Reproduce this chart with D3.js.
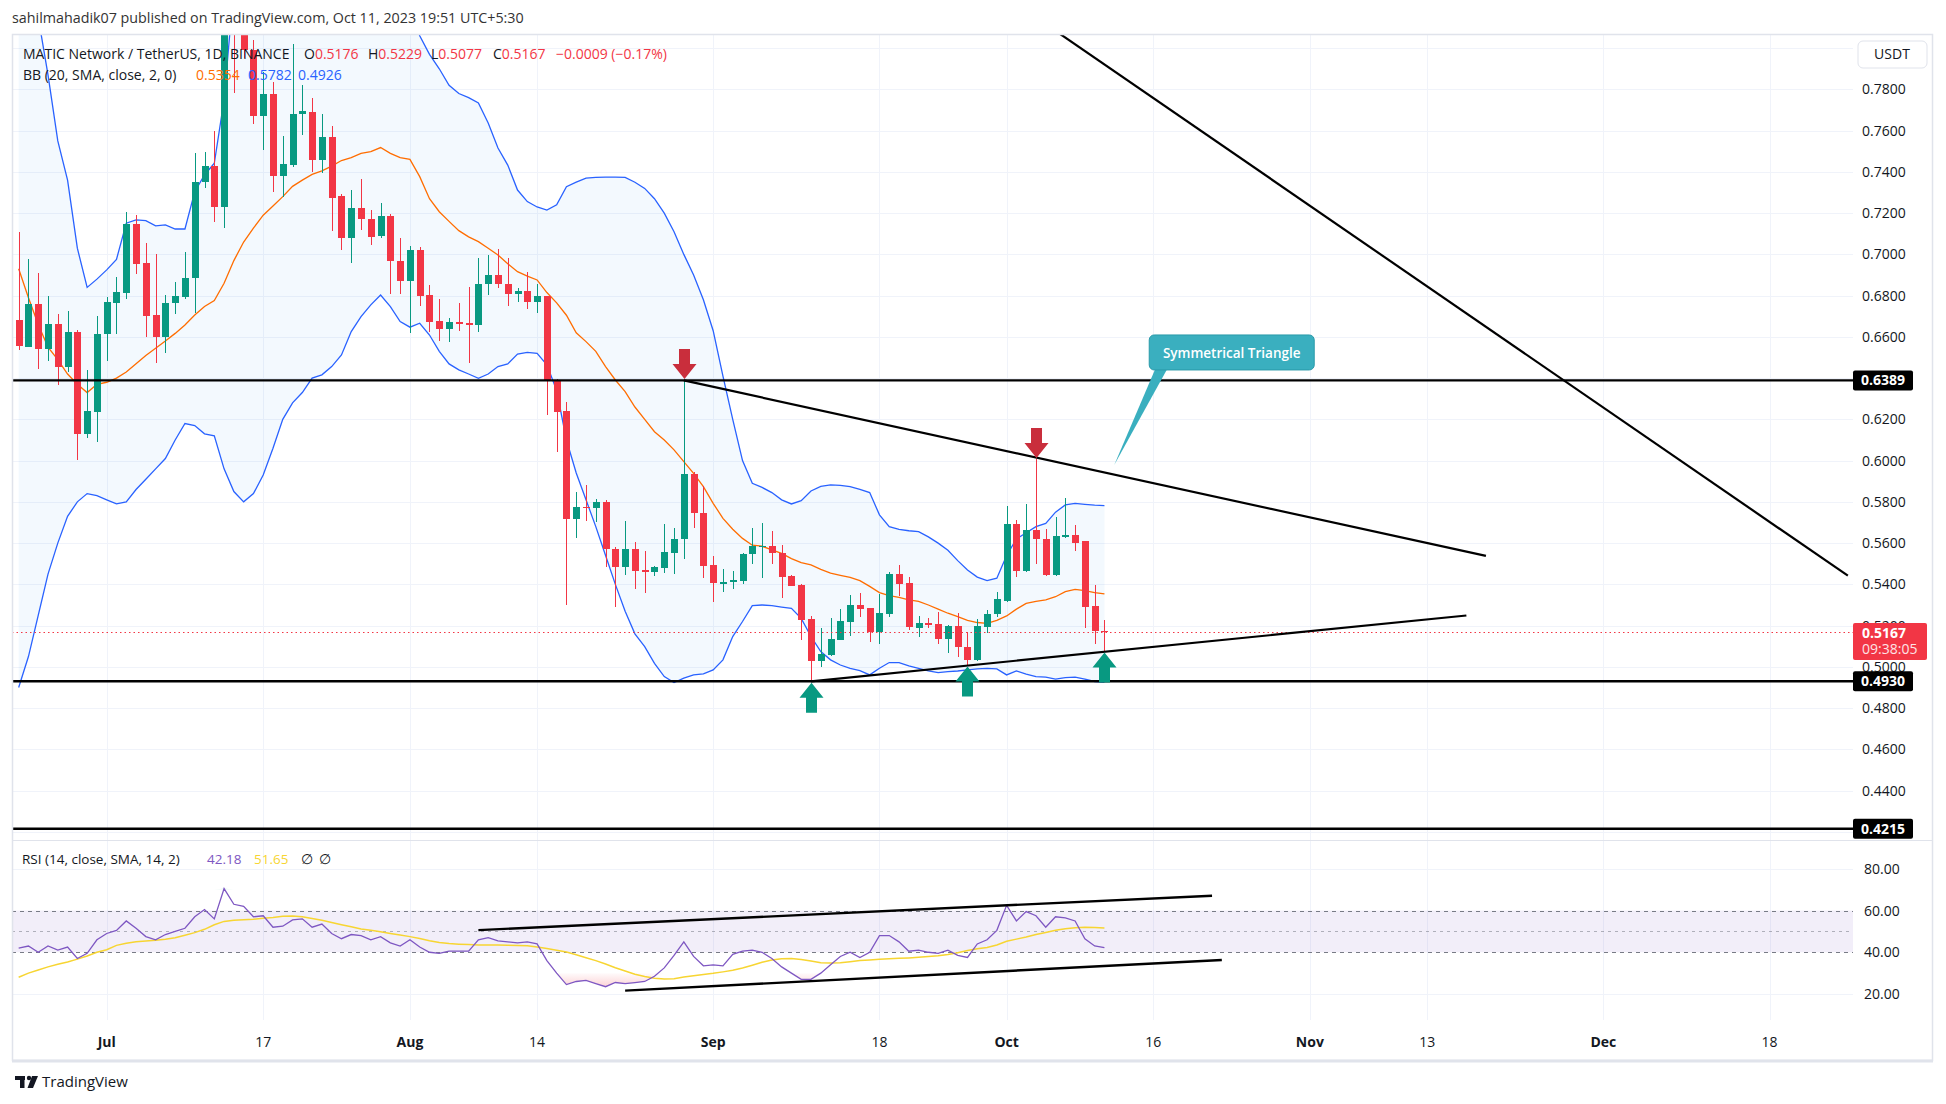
<!DOCTYPE html>
<meta charset="utf-8">
<script src="https://d3js.org/d3.v7.min.js"></script>
<style>
  body { margin: 0; background: #ffffff; }
  text { font-family: "Open Sans", "Noto Sans", sans-serif; fill: #131722; }
</style>
<svg id="chart" width="1946" height="1104"></svg>
<script>
// one daily bar per entry, starting 2023-06-22 (last bar 2023-10-11)
const firstDay = "2023-06-22";

const opens = [
  .6682, .6553, .6760, .6540, .6661, .6453, .6626, .6128, .6238, .6614,
  .6766, .6815, .7148, .6957, .6707, .6601, .6763, .6795, .6884, .7350,
  .7429, .7232, .8300, .8120, .7991, .7673, .7776, .7382, .7434, .7679,
  .7689, .7458, .7568, .7283, .7078, .7223, .7170, .7091, .7186, .6970,
  .6873, .7021, .6803, .6677, .6640, .6671, .6667, .6659, .6855, .6899,
  .6855, .6808, .6823, .6771, .6798, .6391, .6241, .5716, .5777, .5772,
  .5800, .5570, .5486, .5570, .5469, .5462, .5481, .5554, .5618, .5935,
  .5748, .5494, .5405, .5410, .5418, .5546, .5586, .5586, .5551, .5441,
  .5397, .5232, .5030, .5058, .5131, .5219, .5300, .5284, .5168, .5257,
  .5450, .5405, .5190, .5211, .5208, .5134, .5198, .5095, .5034, .5195,
  .5255, .5321, .5693, .5467, .5664, .5620, .5446, .5632, .5638, .5610,
  .5295, .5176
];
const highs = [
  .7107, .6976, .6908, .6798, .6710, .6726, .6634, .6440, .6702, .6795,
  .6889, .7204, .7191, .7054, .7002, .6803, .6865, .7010, .7493, .7495,
  .7598, .8450, .8900, .8200, .8040, .7886, .7838, .7574, .8019, .7821,
  .7757, .7681, .7623, .7291, .7311, .7366, .7215, .7248, .7194, .7078,
  .7042, .7034, .6852, .6784, .6690, .6763, .6840, .6981, .6997, .7025,
  .6981, .6836, .6915, .6855, .6800, .6395, .6286, .5848, .5882, .5814,
  .5810, .5583, .5708, .5607, .5564, .5489, .5693, .5672, .6389, .5946,
  .5877, .5538, .5473, .5465, .5551, .5672, .5699, .5661, .5591, .5445,
  .5400, .5248, .5187, .5236, .5279, .5349, .5357, .5284, .5354, .5459,
  .5494, .5437, .5247, .5236, .5265, .5203, .5260, .5171, .5231, .5276,
  .5361, .5780, .5712, .5790, .6006, .5667, .5725, .5817, .5688, .5610,
  .5397, .5229
];
const lows = [
  .6537, .6550, .6443, .6485, .6367, .6428, .6004, .6112, .6089, .6485,
  .6613, .6784, .6905, .6601, .6475, .6524, .6710, .6782, .6715, .7324,
  .7156, .7127, .7783, .7950, .7631, .7506, .7304, .7280, .7426, .7579,
  .7401, .7393, .7114, .7021, .6960, .7118, .7046, .7078, .6807, .6807,
  .6617, .6752, .6626, .6582, .6577, .6630, .6475, .6625, .6803, .6839,
  .6751, .6771, .6735, .6718, .6221, .6044, .5300, .5627, .5709, .5704,
  .5486, .5292, .5443, .5376, .5357, .5442, .5454, .5450, .5521, .5672,
  .5429, .5316, .5362, .5376, .5402, .5499, .5430, .5499, .5332, .5390,
  .5130, .4930, .5001, .5055, .5128, .5152, .5244, .5122, .5111, .5244,
  .5345, .5179, .5147, .5190, .5110, .5066, .5050, .5009, .5030, .5166,
  .5244, .5315, .5434, .5460, .5499, .5442, .5442, .5627, .5562, .5190,
  .5111, .5077
];
const closes = [
  .6558, .6760, .6540, .6661, .6453, .6626, .6128, .6241, .6614, .6771,
  .6820, .7148, .6954, .6703, .6601, .6763, .6798, .6884, .7350, .7429,
  .7232, .8300, .8120, .7991, .7672, .7776, .7382, .7437, .7681, .7695,
  .7458, .7568, .7275, .7078, .7223, .7170, .7086, .7186, .6970, .6873,
  .7021, .6800, .6674, .6640, .6671, .6665, .6661, .6855, .6899, .6855,
  .6808, .6823, .6771, .6798, .6388, .6235, .5716, .5777, .5772, .5800,
  .5570, .5486, .5570, .5467, .5465, .5486, .5556, .5620, .5935, .5748,
  .5491, .5405, .5410, .5422, .5547, .5586, .5587, .5551, .5438, .5394,
  .5227, .5030, .5063, .5135, .5223, .5300, .5281, .5168, .5260, .5450,
  .5402, .5195, .5211, .5209, .5134, .5198, .5095, .5034, .5198, .5257,
  .5329, .5693, .5467, .5664, .5618, .5446, .5635, .5638, .5602, .5292,
  .5176, .5167
];

// Bollinger Bands (20, 2)
const bbUpper = [
  .870, .845, .815, .787, .755, .736, .703, .684, .688, .6925,
  .6976, .7151, .7167, .7164, .7138, .7143, .7123, .7123, .7304, .7385,
  .7442, .775, .830, .860, .875, .880, .882, .880, .882, .883,
  .882, .880, .878, .875, .870, .865, .860, .855, .845, .835,
  .822, .806, .797, .790, .782, .778, .776, .7734, .7637, .7516,
  .7433, .7312, .7256, .7230, .7215, .7240, .7328, .7350, .7370, .7373,
  .7375, .7375, .7373, .7350, .7320, .7270, .7200, .7110, .7000, .6900,
  .6780, .6630, .6410, .6200, .6000, .5890, .5870, .5845, .5810, .5790,
  .5806, .5853, .5875, .5882, .5880, .5874, .5860, .5845, .5737, .5680,
  .5667, .5660, .5656, .5630, .5600, .5565, .5515, .5470, .5435, .5418,
  .5430, .5540, .5620, .5650, .5680, .5696, .5750, .5785, .5793, .5788,
  .5784, .5782
];
const bbBasis = [
  .693, .679, .666, .655, .649, .642, .637, .633, .637, .638,
  .640, .643, .647, .651, .6545, .658, .6617, .6658, .6706, .6747,
  .6776, .6860, .6970, .7060, .7127, .7190, .7235, .7280, .7330, .7360,
  .7388, .7405, .7428, .7455, .7469, .7490, .7498, .7518, .7490, .7469,
  .7461, .7377, .7270, .7207, .7160, .7115, .7085, .7062, .7030, .6997,
  .6955, .6916, .6895, .6876, .6815, .6765, .6705, .6620, .6577, .6530,
  .6456, .6391, .6335, .6260, .6200, .6140, .6100, .6052, .5995, .5938,
  .5874, .5793, .5720, .5667, .5623, .5590, .5585, .5567, .5550, .5525,
  .5505, .5494, .5473, .5455, .5444, .5434, .5418, .5390, .5360, .5345,
  .5337, .5325, .5318, .5300, .5280, .5260, .5244, .5225, .5215, .5211,
  .5225, .5247, .5280, .5308, .5318, .5325, .5340, .5365, .5376, .5370,
  .5360, .5354
];
const bbLower = [
  .490, .505, .525, .545, .560, .573, .580, .584, .583, .581,
  .579, .580, .586, .591, .596, .601, .610, .618, .617, .613,
  .612, .596, .585, .580, .584, .593, .606, .620, .628, .633,
  .640, .6416, .6456, .6512, .6626, .6698, .6755, .6803, .6747, .6674,
  .6647, .6666, .6609, .6530, .6469, .6440, .6420, .6399, .6420, .6456,
  .6469, .6517, .6525, .6520, .6465, .6340, .6100, .5940, .5810, .5680,
  .5540, .5400, .5270, .5160, .5098, .5017, .4953, .4924, .4945, .4961,
  .4966, .4985, .5034, .5147, .5220, .5297, .5300, .5297, .5290, .5284,
  .5235, .5147, .5074, .5034, .5009, .4993, .4982, .4961, .4993, .5021,
  .5021, .5005, .4993, .4980, .4972, .4977, .4980, .4985, .4990, .4993,
  .4990, .4961, .4980, .4965, .4953, .4950, .4941, .4948, .4950, .4940,
  .4929, .4926
];

// RSI (14) and its 14-day SMA
const rsiValues = [
  42, 43, 40, 43, 41, 42.5, 37, 39.5, 46, 49,
  50.5, 55, 51.5, 47.5, 46, 48.5, 50, 51.5, 57, 60.5,
  56, 70.5, 63, 62, 57, 57.5, 52, 52.5, 55.5, 56,
  52, 53.5, 49, 46.5, 48.5, 48, 46, 47.5, 44.5, 43,
  46, 42.5, 40, 39.5, 40.5, 40.5, 40.5, 46, 47, 45.5,
  45, 44.5, 45, 44, 36, 30, 24.5, 26, 26.5, 25,
  23.5, 25.5, 25, 25.5, 26, 28.5, 32.5, 38.5, 45, 38,
  33.5, 34, 33.5, 39, 40.5, 41, 40, 37, 33, 30,
  27, 27, 30, 34, 38, 40, 37.5, 40, 48, 48,
  45, 40.5, 41, 40, 39.5, 41, 38.5, 37.5, 44, 46,
  50.5, 62.5, 55, 59.5, 57.5, 52, 57, 56.5, 55, 46.5,
  43, 42.18
];
const rsiMa = [
  28, 30, 31.5, 33, 34.3, 35.3, 36.7, 38.2, 40, 41.2,
  43.3, 44.3, 45, 45.4, 45.8, 46.2, 47, 48.2, 49.4, 51,
  53.2, 54.8, 55.4, 55.6, 55.8, 56.3, 56.7, 57.3, 57.4, 57,
  56.2, 55.3, 54.3, 53.2, 52.2, 51.2, 50.5, 49.8, 49, 48.3,
  47.5, 46.6, 45.5, 44.7, 44.2, 43.9, 43.7, 43.5, 43.5, 43.5,
  43.4, 43.3, 43.1, 42.5, 41.8, 41, 40.1, 38.8, 37.4, 36,
  34.4, 32.6, 31, 29.5, 28.4, 27.6, 27.2, 27.3, 28.1, 28.8,
  29.4, 29.9, 30.6, 31.4, 32.5, 33.8, 35.2, 36.3, 36.9, 37,
  36.5, 35.8, 35, 34.8, 35, 35.5, 36, 36.3, 36.6, 36.9,
  37.1, 37.3, 37.6, 38, 38.3, 38.9, 39.8, 40.8, 41.7, 42.3,
  43.5, 45.3, 46.3, 47.3, 48.5, 49.5, 50.6, 51.3, 51.8, 52,
  51.9, 51.65
];

const priceTicks = [0.78, 0.76, 0.74, 0.72, 0.70, 0.68, 0.66, 0.64, 0.62, 0.60,
  0.58, 0.56, 0.54, 0.52, 0.50, 0.48, 0.46, 0.44, 0.42];
const rsiTicks = [80, 60, 40, 20];
const dateTicks = ["2023-07-01", "2023-07-17", "2023-08-01", "2023-08-14", "2023-09-01", "2023-09-18",
  "2023-10-01", "2023-10-16", "2023-11-01", "2023-11-13", "2023-12-01", "2023-12-18"];
const dateLabels = ["Jul", "17", "Aug", "14", "Sep", "18", "Oct", "16", "Nov", "13", "Dec", "18"];

// drawings
const levels = [0.6389, 0.4930, 0.4215];
const triangleTop = [["2023-08-29", 0.6389], ["2023-11-19", 0.5538]];
const triangleBottom = [["2023-09-11", 0.4930], ["2023-11-17", 0.5249]];
const bigTrend = [["2023-10-01", 0.8247], ["2023-12-26", 0.5442]];
const rsiTop = [["2023-08-08", 50.6], ["2023-10-22", 67.1]];
const rsiBottom = [["2023-08-23", 21.6], ["2023-10-23", 36.3]];
const sellArrows = [["2023-08-29", 0.6389], ["2023-10-04", 0.6006]];
const buyArrows = [["2023-09-11", 0.4930], ["2023-09-27", 0.5009], ["2023-10-11", 0.5077]];
const calloutTip = ["2023-10-12", 0.5979];
const countdown = "09:38:05";

// ---- layout ----
const svg = d3.select("#chart");
const left = 12, paneRight = 1853, frameRight = 1932;
const paneTop = 35, mainBottom = 840, rsiPaneBottom = 1020, frameBottom = 1061;
const upColor = "#089981", downColor = "#f23645";

const parseDay = d3.utcParse("%Y-%m-%d");
const day0 = parseDay(firstDay);
const bars = opens.map((o, i) => ({
  date: d3.utcDay.offset(day0, i), open: o, high: highs[i], low: lows[i], close: closes[i],
  upper: bbUpper[i], basis: bbBasis[i], lower: bbLower[i], rsi: rsiValues[i], rsiMa: rsiMa[i]
}));

const x = d3.scaleUtc().domain([parseDay("2023-07-01"), parseDay("2023-12-18")]).range([106.7, 1769.6]);
const y = d3.scaleLinear().domain([0.78, 0.44]).range([89.4, 790.6]);
const yR = d3.scaleLinear().domain([80, 20]).range([868.8, 994]);
const fmt4 = d3.format(".4f");
const snap = v => Math.round(v) + 0.5;

svg.append("rect").attr("width", 1946).attr("height", 1104).attr("fill", "#fff");

const defs = svg.append("defs");
defs.append("clipPath").attr("id", "clipMain").append("rect")
  .attr("x", left).attr("y", paneTop).attr("width", paneRight - left).attr("height", mainBottom - paneTop);
defs.append("clipPath").attr("id", "clipRsi").append("rect")
  .attr("x", left).attr("y", mainBottom).attr("width", paneRight - left).attr("height", rsiPaneBottom - mainBottom);
const gradLow = defs.append("linearGradient").attr("id", "oversold").attr("x1", 0).attr("x2", 0).attr("y1", 0).attr("y2", 1);
gradLow.append("stop").attr("offset", "0%").attr("stop-color", "#f23645").attr("stop-opacity", 0.02);
gradLow.append("stop").attr("offset", "100%").attr("stop-color", "#f23645").attr("stop-opacity", 0.22);
const gradHigh = defs.append("linearGradient").attr("id", "overbought").attr("x1", 0).attr("x2", 0).attr("y1", 1).attr("y2", 0);
gradHigh.append("stop").attr("offset", "0%").attr("stop-color", "#089981").attr("stop-opacity", 0.02);
gradHigh.append("stop").attr("offset", "100%").attr("stop-color", "#089981").attr("stop-opacity", 0.22);

// ---- grid ----
const grid = svg.append("g").attr("stroke", "#f0f3fa").attr("stroke-width", 1);
grid.selectAll(".hp").data([0.80, ...priceTicks]).join("line")
  .attr("x1", left).attr("x2", paneRight)
  .attr("y1", d => snap(y(d))).attr("y2", d => snap(y(d)));
grid.selectAll(".hr").data(rsiTicks.filter(v => v === 80 || v === 20)).join("line")
  .attr("x1", left).attr("x2", paneRight)
  .attr("y1", d => snap(yR(d))).attr("y2", d => snap(yR(d)));
grid.selectAll(".v").data(dateTicks).join("line")
  .attr("x1", d => snap(x(parseDay(d)))).attr("x2", d => snap(x(parseDay(d))))
  .attr("y1", paneTop).attr("y2", rsiPaneBottom);

// ---- main pane ----
const main = svg.append("g").attr("clip-path", "url(#clipMain)");
const xd = d => x(d.date);

main.append("path").datum(bars)
  .attr("fill", "rgba(33,150,243,0.055)")
  .attr("d", d3.area().x(xd).y0(d => y(d.lower)).y1(d => y(d.upper)));
[["upper", "#2962ff"], ["lower", "#2962ff"], ["basis", "#ff6d00"]].forEach(([k, c]) => {
  main.append("path").datum(bars)
    .attr("fill", "none").attr("stroke", c).attr("stroke-width", 1.3)
    .attr("d", d3.line().x(xd).y(d => y(d[k])));
});

const candles = main.append("g").attr("shape-rendering", "crispEdges")
  .selectAll("g").data(bars).join("g");
candles.append("line")
  .attr("x1", d => snap(xd(d))).attr("x2", d => snap(xd(d)))
  .attr("y1", d => y(d.high)).attr("y2", d => y(d.low))
  .attr("stroke", d => d.close >= d.open ? upColor : downColor);
candles.append("rect")
  .attr("x", d => Math.round(xd(d)) - 3).attr("width", 7)
  .attr("y", d => y(Math.max(d.open, d.close)))
  .attr("height", d => Math.max(1.5, Math.abs(y(d.open) - y(d.close))))
  .attr("fill", d => d.close >= d.open ? upColor : downColor);

// horizontal levels and trendlines
main.selectAll(".lvl").data(levels).join("line")
  .attr("x1", left).attr("x2", paneRight)
  .attr("y1", d => y(d)).attr("y2", d => y(d))
  .attr("stroke", "#000").attr("stroke-width", 2.4);
main.append("line")
  .attr("x1", left).attr("x2", paneRight)
  .attr("y1", snap(y(closes[closes.length - 1]))).attr("y2", snap(y(closes[closes.length - 1])))
  .attr("stroke", downColor).attr("stroke-width", 1).attr("stroke-dasharray", "1.5,3");
const trendLine = d3.line().x(d => x(parseDay(d[0]))).y(d => y(d[1]));
[triangleTop, triangleBottom, bigTrend].forEach(t => {
  main.append("path").datum(t).attr("d", trendLine)
    .attr("fill", "none").attr("stroke", "#000").attr("stroke-width", 2.2);
});

// arrows
function arrow(date, price, dir, color) {
  const cx = Math.round(x(parseDay(date))) + 0.5;
  const s = dir === "up" ? 1 : -1;
  const tip = y(price) + s * 1.5;
  main.append("path").attr("fill", color).attr("d",
    `M${cx},${tip} L${cx + 12},${tip + s * 15} L${cx + 5.5},${tip + s * 15} L${cx + 5.5},${tip + s * 30}` +
    ` L${cx - 5.5},${tip + s * 30} L${cx - 5.5},${tip + s * 15} L${cx - 12},${tip + s * 15} Z`);
}
sellArrows.forEach(a => arrow(a[0], a[1], "down", "#c92e3c"));
buyArrows.forEach(a => arrow(a[0], a[1], "up", upColor));

// callout
const tipX = x(parseDay(calloutTip[0])), tipY = y(calloutTip[1]);
const boxX = tipX + 35, boxY = tipY - 130, boxW = 165, boxH = 35;
main.append("path").attr("fill", "#3aafbf")
  .attr("d", `M${boxX + 6},${boxY + boxH - 1} L${boxX + 18},${boxY + boxH - 1} L${tipX},${tipY} Z`);
main.append("rect").attr("x", boxX).attr("y", boxY).attr("width", boxW).attr("height", boxH)
  .attr("rx", 5).attr("fill", "#3aafbf").attr("stroke", "#2a9aaa").attr("stroke-width", 1);
main.append("text").attr("x", boxX + boxW / 2).attr("y", boxY + 23)
  .attr("text-anchor", "middle").style("fill", "#fff").style("font-size", "13.5px").style("font-weight", 600)
  .text("Symmetrical Triangle");

// ---- legend ----
const last = bars.length - 1;
const chg = closes[last] - opens[last];
const legend = svg.append("g").style("font-size", "14px");
legend.append("text").attr("x", 23).attr("y", 59).text("MATIC Network / TetherUS, 1D, BINANCE");
[["O", opens[last], 304], ["H", highs[last], 368], ["L", lows[last], 431], ["C", closes[last], 493]].forEach(([k, v, px]) => {
  const t = legend.append("text").attr("x", px).attr("y", 59);
  t.append("tspan").text(k);
  t.append("tspan").style("fill", downColor).text(fmt4(v));
});
legend.append("text").attr("x", 556).attr("y", 59).style("fill", downColor)
  .text(`${fmt4(chg)} (${d3.format(".2f")(chg / opens[last] * 100)}%)`);
legend.append("text").attr("x", 23).attr("y", 80).text("BB (20, SMA, close, 2, 0)");
[[bbBasis[last], "#ff6d00", 196], [bbUpper[last], "#2962ff", 248], [bbLower[last], "#2962ff", 298]].forEach(([v, c, px]) => {
  legend.append("text").attr("x", px).attr("y", 80).style("fill", c).text(fmt4(v));
});

// ---- price axis ----
const axis = svg.append("g").style("font-size", "14px");
axis.selectAll(".pt").data(priceTicks).join("text")
  .attr("x", 1862).attr("y", d => y(d) + 5).text(d => fmt4(d));
const levelTags = axis.selectAll(".tag").data(levels).join("g");
levelTags.append("rect").attr("x", 1853).attr("width", 60).attr("height", 20)
  .attr("y", d => y(d) - 10).attr("rx", 2).attr("fill", "#000");
levelTags.append("text").attr("x", 1883).attr("y", d => y(d) + 5).attr("text-anchor", "middle")
  .style("fill", "#fff").style("font-weight", 700).text(d => fmt4(d));
const lastY = y(closes[last]);
axis.append("rect").attr("x", 1853).attr("y", lastY - 9.5).attr("width", 74).attr("height", 37)
  .attr("rx", 2).attr("fill", downColor);
axis.append("text").attr("x", 1862).attr("y", lastY + 6).style("fill", "#fff").style("font-weight", 700)
  .text(fmt4(closes[last]));
axis.append("text").attr("x", 1862).attr("y", lastY + 22).style("fill", "#fde3e5")
  .text(countdown);
axis.append("rect").attr("x", 1858).attr("y", 41).attr("width", 69).attr("height", 27).attr("rx", 5)
  .attr("fill", "#fff").attr("stroke", "#e0e3eb");
axis.append("text").attr("x", 1892).attr("y", 59).attr("text-anchor", "middle").text("USDT");

// ---- RSI pane ----
const rsiG = svg.append("g").attr("clip-path", "url(#clipRsi)");
rsiG.append("rect").attr("x", left).attr("width", paneRight - left)
  .attr("y", yR(60)).attr("height", yR(40) - yR(60)).attr("fill", "rgba(126,87,194,0.1)");
[[60, "4,4", 1], [50, "3,4", 0.55], [40, "4,4", 1]].forEach(([v, dash, op]) => {
  rsiG.append("line").attr("x1", left).attr("x2", paneRight)
    .attr("y1", snap(yR(v))).attr("y2", snap(yR(v)))
    .attr("stroke", "#787b86").attr("stroke-dasharray", dash).attr("stroke-opacity", op);
});
rsiG.append("path").datum(bars).attr("fill", "url(#oversold)")
  .attr("d", d3.area().x(xd).y0(yR(30)).y1(d => yR(Math.min(d.rsi, 30))));
rsiG.append("path").datum(bars).attr("fill", "url(#overbought)")
  .attr("d", d3.area().x(xd).y0(yR(70)).y1(d => yR(Math.max(d.rsi, 70))));
rsiG.append("path").datum(bars).attr("fill", "none").attr("stroke", "#f7d532").attr("stroke-width", 1.5)
  .attr("d", d3.line().x(xd).y(d => yR(d.rsiMa)));
rsiG.append("path").datum(bars).attr("fill", "none").attr("stroke", "#7e57c2").attr("stroke-width", 1.3)
  .attr("d", d3.line().x(xd).y(d => yR(d.rsi)));
const rsiTrend = d3.line().x(d => x(parseDay(d[0]))).y(d => yR(d[1]));
[rsiTop, rsiBottom].forEach(t => {
  rsiG.append("path").datum(t).attr("d", rsiTrend)
    .attr("fill", "none").attr("stroke", "#000").attr("stroke-width", 2.4);
});

axis.selectAll(".rt").data(rsiTicks).join("text")
  .attr("x", 1864).attr("y", d => yR(d) + 5).text(d => d3.format(".2f")(d));

const rsiLegend = svg.append("g").style("font-size", "13.5px");
rsiLegend.append("text").attr("x", 22).attr("y", 864).text("RSI (14, close, SMA, 14, 2)");
rsiLegend.append("text").attr("x", 207).attr("y", 864).style("fill", "#7e57c2").text(d3.format(".2f")(rsiValues[last]));
rsiLegend.append("text").attr("x", 254).attr("y", 864).style("fill", "#f7d532").text(d3.format(".2f")(rsiMa[last]));
rsiLegend.append("text").attr("x", 301).attr("y", 864).text("∅");
rsiLegend.append("text").attr("x", 319).attr("y", 864).text("∅");

// ---- frame, separators ----
svg.append("line").attr("x1", left).attr("x2", frameRight).attr("y1", mainBottom + 0.5).attr("y2", mainBottom + 0.5)
  .attr("stroke", "#e0e3eb");
svg.append("rect").attr("x", left + 0.5).attr("y", paneTop - 0.5)
  .attr("width", frameRight - left).attr("height", frameBottom - paneTop)
  .attr("fill", "none").attr("stroke", "#e0e3eb").attr("stroke-width", 1.5);
svg.append("line").attr("x1", left).attr("x2", frameRight + 1).attr("y1", frameBottom).attr("y2", frameBottom)
  .attr("stroke", "#e0e3eb").attr("stroke-width", 3);

// ---- x axis ----
svg.append("g").style("font-size", "14px")
  .selectAll("text").data(dateTicks).join("text")
  .attr("x", d => x(parseDay(d))).attr("y", 1047).attr("text-anchor", "middle")
  .style("font-weight", (d, i) => isNaN(+dateLabels[i]) ? 700 : 400)
  .text((d, i) => dateLabels[i]);

// ---- header and footer ----
svg.append("text").attr("x", 12).attr("y", 23).style("font-size", "14.3px").style("fill", "#333")
  .text("sahilmahadik07 published on TradingView.com, Oct 11, 2023 19:51 UTC+5:30");
const logo = svg.append("g").attr("fill", "#131722");
logo.append("rect").attr("x", 15).attr("y", 1076).attr("width", 10).attr("height", 4);
logo.append("rect").attr("x", 20).attr("y", 1076).attr("width", 4.5).attr("height", 12);
logo.append("circle").attr("cx", 29).attr("cy", 1078).attr("r", 2.2);
logo.append("path").attr("d", "M32,1076 L38,1076 L33,1088 L27.5,1088 Z");
svg.append("text").attr("x", 42).attr("y", 1087).style("font-size", "15px").text("TradingView");
</script>
